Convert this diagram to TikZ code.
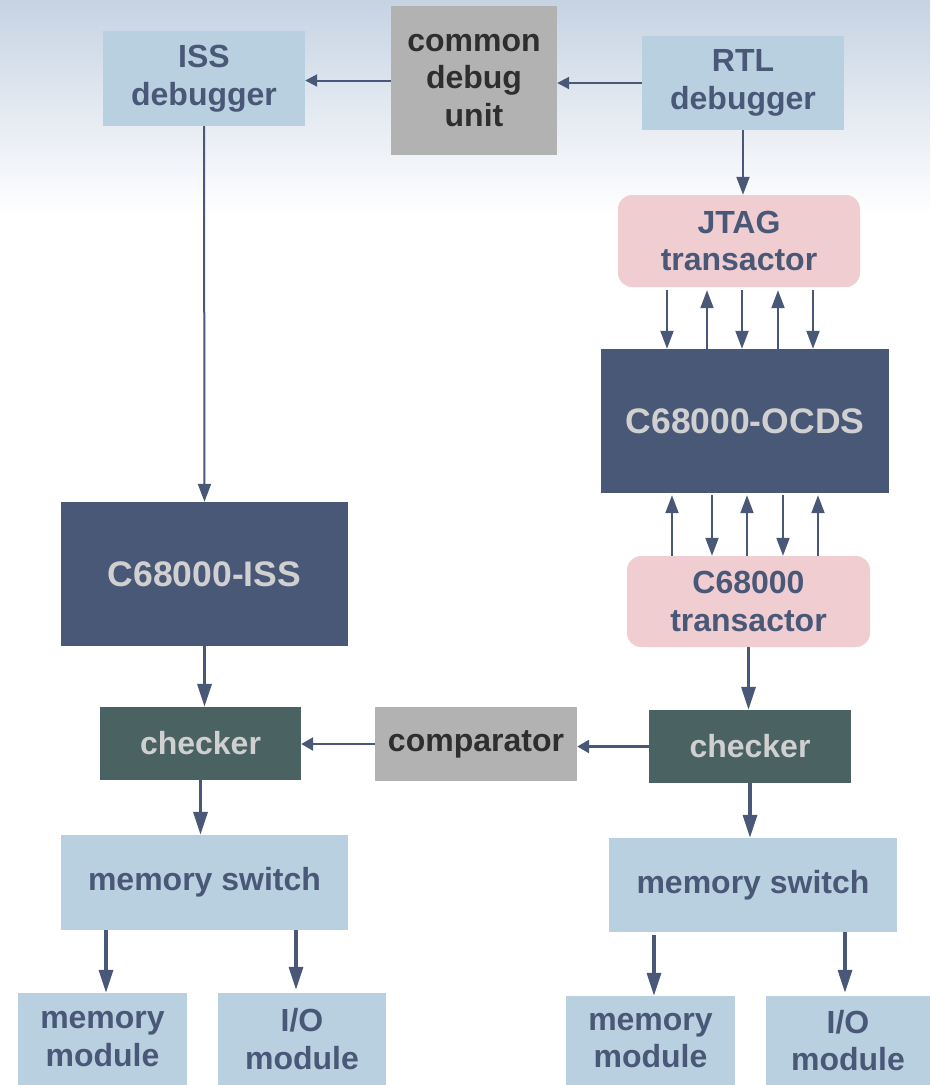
\documentclass[tikz,border=0pt]{standalone}
\usepackage{fontspec}
\setmainfont{Liberation Sans}
\usetikzlibrary{arrows.meta,calc}
\definecolor{lblue}{HTML}{B9D0E0}
\definecolor{navy}{HTML}{4A5878}
\definecolor{teal}{HTML}{4B6262}
\definecolor{gbox}{HTML}{B2B2B2}
\definecolor{pinkb}{HTML}{F0CDD0}
\definecolor{ltext}{HTML}{D0D0D0}
\definecolor{dtext}{HTML}{2E2E2E}
\definecolor{bgtop}{HTML}{C6D3E3}
\tikzset{
  box/.style={inner sep=0pt, align=center, font=\bfseries\fontsize{32}{37.5}\selectfont},
  lb/.style={box, fill=lblue, text=navy},
  gb/.style={box, fill=gbox, text=dtext},
  nb/.style={box, fill=navy, text=ltext, font=\bfseries\fontsize{35.5}{40}\selectfont},
  tb/.style={box, fill=teal, text=ltext},
  pb/.style={box, fill=pinkb, text=navy, rounded corners=14pt},
  arrv/.style={draw=navy, line width=2pt, -{Triangle[length=18pt,width=13pt]}},
  arrh/.style={draw=navy, line width=2pt, -{Triangle[length=12pt,width=12pt]}},
  arrt/.style={draw=navy, line width=3.2pt, -{Triangle[length=23pt,width=14pt]}},
  arrth/.style={draw=navy, line width=2.6pt, -{Triangle[length=12pt,width=13pt]}},
}
\begin{document}
\begin{tikzpicture}[x=1pt,y=-1pt]
\useasboundingbox (0,0) rectangle (930,1085);
\shade[top color=bgtop, bottom color=white] (0,0) rectangle (930,215);
% boxes
\node[lb, minimum width=202pt, minimum height=95pt] (issdbg) at (204,78.5) {ISS\\debugger};
\node[gb, minimum width=166pt, minimum height=149pt] (cdu) at (474,80.5) {common\\debug\\unit};
\node[lb, minimum width=202pt, minimum height=94pt] (rtldbg) at (743,83) {RTL\\debugger};
\node[pb, minimum width=242pt, minimum height=92pt] (jtag) at (739,241) {JTAG\\transactor};
\node[nb, minimum width=288pt, minimum height=144pt] (ocds) at (745,421) {C68000-OCDS};
\node[pb, minimum width=243pt, minimum height=91pt] (c68t) at (748.5,601.5) {C68000\\transactor};
\node[tb, minimum width=202pt, minimum height=73pt] (chkR) at (750,746.5) {checker};
\node[gb, minimum width=202pt, minimum height=74pt] (comp) at (476,744) {comparator};
\node[tb, minimum width=201pt, minimum height=73pt] (chkL) at (200.5,743.5) {checker};
\node[nb, minimum width=287pt, minimum height=144pt] (iss) at (204.5,574) {C68000-ISS};
\node[lb, minimum width=287pt, minimum height=95pt] (msL) at (204.5,882.5) {memory switch};
\node[lb, minimum width=288pt, minimum height=94pt] (msR) at (753,885) {memory switch};
\node[lb, minimum width=169pt, minimum height=92pt] (mmL) at (102.5,1039) {memory\\module};
\node[lb, minimum width=168pt, minimum height=92pt] (ioL) at (302,1039) {I/O\\module};
\node[lb, minimum width=169pt, minimum height=89pt] (mmR) at (650.5,1040.5) {memory\\module};
\node[lb, minimum width=164pt, minimum height=89pt] (ioR) at (848,1040.5) {I/O\\module};
% top arrows
\draw[arrh] (cdu.west) -- (cdu.west -| issdbg.east);
\draw[arrh] (rtldbg.west) -- (rtldbg.west -| cdu.east);
\draw[arrv] (rtldbg.south) -- (rtldbg.south |- jtag.north);
\draw[arrv] (issdbg.south) -- (iss.north);
% JTAG <-> OCDS
\coordinate (j1) at ($(jtag.south)+(-72,3)$);
\coordinate (j2) at ($(jtag.south)+(-32,3)$);
\coordinate (j3) at ($(jtag.south)+(3,3)$);
\coordinate (j4) at ($(jtag.south)+(39,3)$);
\coordinate (j5) at ($(jtag.south)+(74,3)$);
\draw[arrv] (j1) -- (j1 |- ocds.north);
\draw[arrv] (j2 |- ocds.north) -- (j2);
\draw[arrv] (j3) -- (j3 |- ocds.north);
\draw[arrv] (j4 |- ocds.north) -- (j4);
\draw[arrv] (j5) -- (j5 |- ocds.north);
% OCDS <-> C68000 transactor
\coordinate (o1) at ($(ocds.south)+(-73,2)$);
\coordinate (o2) at ($(ocds.south)+(-33,2)$);
\coordinate (o3) at ($(ocds.south)+(2,2)$);
\coordinate (o4) at ($(ocds.south)+(38,2)$);
\coordinate (o5) at ($(ocds.south)+(73,2)$);
\draw[arrv] (o1 |- c68t.north) -- (o1);
\draw[arrv] (o2) -- (o2 |- c68t.north);
\draw[arrv] (o3 |- c68t.north) -- (o3);
\draw[arrv] (o4) -- (o4 |- c68t.north);
\draw[arrv] (o5 |- c68t.north) -- (o5);
% thick arrows
\draw[arrt] (c68t.south) -- (c68t.south |- chkR.north);
\draw[arrt] (iss.south) -- (iss.south |- chkL.north);
\draw[arrt] (chkL.south) -- (chkL.south |- msL.north);
\draw[arrt] (chkR.south) -- (chkR.south |- msR.north);
\draw[arrth] (chkR.west) -- (chkR.west -| comp.east);
\draw[arrth] (comp.west) -- (comp.west -| chkL.east);
% memory switch outputs
\coordinate (l1) at ($(msL.south)+(-98.5,0)$);
\coordinate (l2) at ($(msL.south)+(91.5,0)$);
\coordinate (r1) at ($(msR.south)+(-99,3)$);
\coordinate (r2) at ($(msR.south)+(92,0)$);
\draw[arrt] (l1) -- (l1 |- mmL.north);
\draw[arrt] (l2) -- ($(l2 |- ioL.north)+(0,-3)$);
\draw[arrt] (r1) -- (r1 |- mmR.north);
\draw[arrt] (r2) -- ($(r2 |- ioR.north)+(0,-3)$);
\end{tikzpicture}
\end{document}
